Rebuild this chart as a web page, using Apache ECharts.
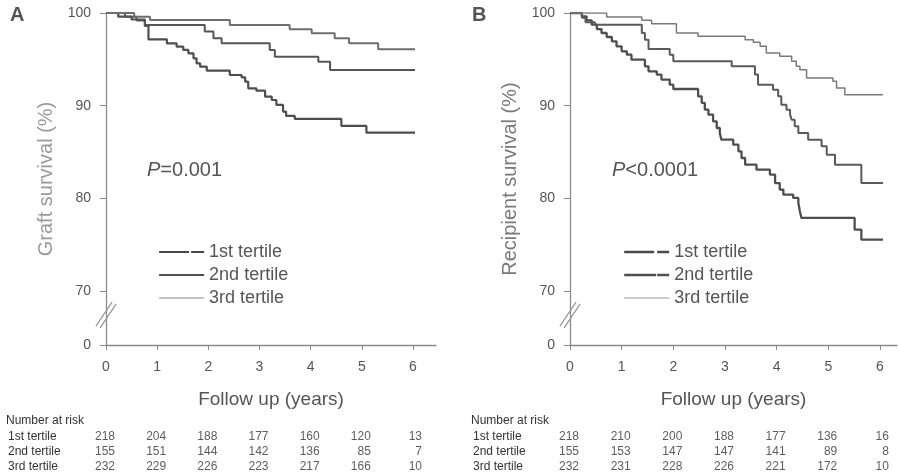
<!DOCTYPE html>
<html><head><meta charset="utf-8">
<script src="https://cdn.jsdelivr.net/npm/echarts@6/dist/echarts.min.js"></script>
<style>html,body{margin:0;padding:0;background:#fff}#c{width:899px;height:476px}</style>
</head><body><div id="c"></div>
<script>
// ---------- data ----------
const groupNames = ['1st tertile', '2nd tertile', '3rd tertile'];
const xTicks = [0, 1, 2, 3, 4, 5, 6];
const yTicks = [70, 80, 90, 100];
const BREAK_MIN = 64.17;   // axis bottom, labelled "0" (axis break)

// Panel A: graft survival (%) — [years, survival]
const graft1 = [[0,100],[0.24,99.6],[0.50,99.3],[0.76,98.6],[0.83,97.16],[1.19,96.73],[1.38,96.37],[1.51,96.01],[1.61,95.65],[1.71,95.11],[1.77,94.57],[1.84,94.21],[1.97,93.78],[2.42,93.31],[2.65,93.06],[2.72,92.59],[2.78,91.87],[2.94,91.62],[3.11,90.97],[3.24,90.61],[3.33,90.08],[3.46,89.36],[3.52,88.89],[3.69,88.57],[4.60,87.81],[5.09,87.09],[6.04,87.09]];
const graft2 = [[0,100],[0.37,99.6],[0.60,99.2],[0.76,98.71],[1.93,97.99],[2.10,97.27],[2.26,96.73],[3.20,96.01],[3.30,95.29],[4.15,94.75],[4.38,93.85],[6.04,93.85]];
const graft3 = [[0,100],[0.55,99.6],[0.86,99.24],[2.42,98.71],[3.59,98.24],[4.02,97.81],[4.47,97.27],[4.75,96.73],[5.32,96.08],[6.04,96.08]];

// Panel B: recipient survival (%)
const recip1 = [[0,100],[0.23,99.64],[0.32,99.21],[0.42,98.74],[0.52,98.27],[0.61,97.84],[0.71,97.41],[0.81,96.94],[0.90,96.40],[1.00,95.86],[1.10,95.50],[1.19,94.96],[1.45,94.24],[1.52,93.71],[1.68,93.35],[1.77,92.81],[1.93,92.27],[2.00,91.80],[2.48,91.01],[2.55,90.29],[2.61,89.57],[2.68,89.03],[2.77,88.31],[2.84,87.59],[2.90,87.05],[2.93,86.33],[3.16,85.79],[3.26,85.07],[3.32,84.35],[3.39,83.63],[3.61,83.09],[3.87,82.55],[3.97,81.65],[4.06,80.94],[4.13,80.40],[4.32,80.04],[4.42,79.50],[4.45,78.60],[4.48,77.88],[5.51,76.62],[5.64,75.54],[6.06,75.54]];
const recip2 = [[0,100],[0.23,99.5],[0.30,99.0],[0.48,98.74],[1.39,97.84],[1.45,97.12],[1.52,96.12],[1.93,95.50],[2.00,94.78],[3.13,94.24],[3.58,93.35],[3.64,92.27],[3.93,91.73],[4.03,91.01],[4.09,90.11],[4.19,89.57],[4.26,89.03],[4.29,88.49],[4.35,87.77],[4.42,87.05],[4.61,86.33],[4.87,85.61],[4.97,84.71],[5.13,83.63],[5.64,81.65],[6.06,81.65]];
const recip3 = [[0,100],[0.71,99.57],[1.39,99.21],[1.58,98.85],[2.06,97.84],[2.48,97.48],[3.39,97.12],[3.55,96.83],[3.68,96.40],[3.80,95.68],[4.06,95.32],[4.29,94.78],[4.38,94.24],[4.45,93.88],[4.58,92.99],[5.09,92.63],[5.16,91.91],[5.32,91.19],[6.06,91.19]];

// Number at risk
const riskA1 = [218, 204, 188, 177, 160, 120, 13];
const riskA2 = [155, 151, 144, 142, 136, 85, 7];
const riskA3 = [232, 229, 226, 223, 217, 166, 10];
const riskB1 = [218, 210, 200, 188, 177, 136, 16];
const riskB2 = [155, 153, 147, 147, 141, 89, 8];
const riskB3 = [232, 231, 228, 226, 221, 172, 10];

// ---------- chart ----------
const FONT = '"Liberation Sans", Arial, Helvetica, sans-serif';
const chart = echarts.init(document.getElementById('c'), null, {renderer: 'canvas'});

const axisColor = '#8a8a8a';
function mainX(grid, max) {
  return {
    gridIndex: grid, type: 'value', min: 0, max: max,
    name: 'Follow up (years)', nameLocation: 'middle', nameGap: 45,
    nameTextStyle: {fontFamily: FONT, fontSize: 19, color: '#555'},
    axisLine: {lineStyle: {color: axisColor, width: 1.3}},
    axisTick: {customValues: xTicks, length: 5, lineStyle: {color: axisColor}},
    axisLabel: {customValues: xTicks, margin: 15, fontFamily: FONT, fontSize: 14, color: '#555'},
    splitLine: {show: false}
  };
}
function mainY(grid, title, titleColor) {
  const vals = [BREAK_MIN].concat(yTicks);
  return {
    gridIndex: grid, type: 'value', min: BREAK_MIN, max: 100,
    name: title, nameLocation: 'middle', nameGap: 50,
    nameTextStyle: {fontFamily: FONT, fontSize: 20, color: titleColor},
    axisLine: {show: true, lineStyle: {color: axisColor, width: 1.3}},
    axisTick: {show: true, customValues: vals, length: 6, lineStyle: {color: axisColor}},
    axisLabel: {customValues: vals, margin: 15, fontFamily: FONT, fontSize: 14, color: '#555',
      formatter: v => (v < 70 ? '0' : String(v))},
    splitLine: {show: false}
  };
}
function tableX(grid, max) {
  return {gridIndex: grid, type: 'value', min: 0, max: max, show: false};
}
function tableY(grid, margin) {
  return {
    gridIndex: grid, type: 'category', data: groupNames, inverse: true,
    axisLine: {show: false}, axisTick: {show: false}, splitLine: {show: false},
    axisLabel: {interval: 0, hideOverlap: false, align: 'left', margin: margin,
      fontFamily: FONT, fontSize: 12, color: '#333'}
  };
}
function curve(name, data, axis, color, width) {
  return {
    name: name, type: 'line', step: 'end', data: data,
    xAxisIndex: axis, yAxisIndex: axis, symbol: 'none', showSymbol: false,
    lineStyle: {color: color, width: width}, itemStyle: {color: color},
    silent: true, animation: false, z: 3
  };
}
function riskSeries(row, values, axis) {
  return {
    type: 'scatter', xAxisIndex: axis, yAxisIndex: axis,
    data: xTicks.map((t, i) => [t, row, values[i]]),
    symbol: 'circle', symbolSize: 1, itemStyle: {color: 'rgba(0,0,0,0)'},
    label: {show: true, position: 'inside', align: 'right', offset: [9, 0],
      formatter: p => String(p.value[2]), fontFamily: FONT, fontSize: 12, color: '#333'},
    silent: true, animation: false
  };
}
function legend(left, styles) {
  return {
    left: left, top: 242, orient: 'vertical', padding: 0,
    itemWidth: 45, itemHeight: 14, itemGap: 3, selectedMode: false,
    textStyle: {fontFamily: FONT, fontSize: 18, color: '#555', lineHeight: 20},
    data: groupNames.map((n, i) => ({name: n, lineStyle: styles[i],
      itemStyle: {opacity: 0, color: 'rgba(0,0,0,0)', borderWidth: 0}}))
  };
}

const option = {
  backgroundColor: '#fff',
  animation: false,
  grid: [
    {left: 106, top: 13, width: 330, height: 332},
    {left: 570, top: 13, width: 327, height: 332},
    {left: 106, top: 429, width: 330, height: 45},
    {left: 570, top: 429, width: 327, height: 45}
  ],
  xAxis: [mainX(0, 6.45), mainX(1, 6.33), tableX(2, 6.45), tableX(3, 6.33)],
  yAxis: [mainY(0, 'Graft survival (%)', '#9a9a9a'), mainY(1, 'Recipient survival (%)', '#7a7a7a'),
          tableY(2, 98), tableY(3, 97)],
  legend: [
    legend(158, [
      {color: '#4a4a4a', width: 2.2, type: [30, 2, 13]},
      {color: '#4f4f4f', width: 2.2},
      {color: '#c4c4c4', width: 2.2}
    ]),
    legend(623, [
      {color: '#4a4a4a', width: 2.4, type: [30, 3, 12]},
      {color: '#4f4f4f', width: 2.4, type: [32, 1, 12]},
      {color: '#bdbdbd', width: 1.4}
    ])
  ],
  series: [
    curve('1st tertile', graft1, 0, '#4e4e4e', 2.2),
    curve('2nd tertile', graft2, 0, '#555555', 2),
    curve('3rd tertile', graft3, 0, '#6e6e6e', 2),
    curve('1st tertile', recip1, 1, '#4e4e4e', 2.3),
    curve('2nd tertile', recip2, 1, '#5a5a5a', 2),
    curve('3rd tertile', recip3, 1, '#7a7a7a', 1.5),
    riskSeries(0, riskA1, 2), riskSeries(1, riskA2, 2), riskSeries(2, riskA3, 2),
    riskSeries(0, riskB1, 3), riskSeries(1, riskB2, 3), riskSeries(2, riskB3, 3)
  ]
};
chart.setOption(option);

// decorations: panel letters, P values, "Number at risk", axis-break slashes
function breakMarks(gridIdx) {
  const p = chart.convertToPixel({gridIndex: gridIdx}, [0, 67.5]);
  const x = p[0], y = p[1];
  const st = {stroke: '#9a9a9a', lineWidth: 1.3};
  return [
    {type: 'line', shape: {x1: x - 10, y1: y + 12, x2: x + 6, y2: y - 12}, style: st, z: 10},
    {type: 'line', shape: {x1: x - 6, y1: y + 14, x2: x + 10, y2: y - 10}, style: st, z: 10}
  ];
}
function pText(left, txt) {
  return {
    type: 'text', left: left, top: 160,
    style: {text: '{i|P}{n|' + txt + '}', rich: {
      i: {fontFamily: FONT, fontSize: 20, fontStyle: 'italic', fill: '#555'},
      n: {fontFamily: FONT, fontSize: 20, fill: '#555'}
    }}
  };
}
const deco = [
  {type: 'text', left: 10, top: 5, style: {text: 'A', fontFamily: FONT, fontSize: 20, fontWeight: 'bold', fill: '#555'}},
  {type: 'text', left: 472, top: 5, style: {text: 'B', fontFamily: FONT, fontSize: 20, fontWeight: 'bold', fill: '#555'}},
  pText(147, '=0.001'),
  pText(612, '<0.0001'),
  {type: 'text', left: 6, top: 415, style: {text: 'Number at risk', fontFamily: FONT, fontSize: 12, fill: '#333'}},
  {type: 'text', left: 471, top: 415, style: {text: 'Number at risk', fontFamily: FONT, fontSize: 12, fill: '#333'}}
].concat(breakMarks(0), breakMarks(1));
chart.setOption({graphic: deco});
</script>
</body></html>
